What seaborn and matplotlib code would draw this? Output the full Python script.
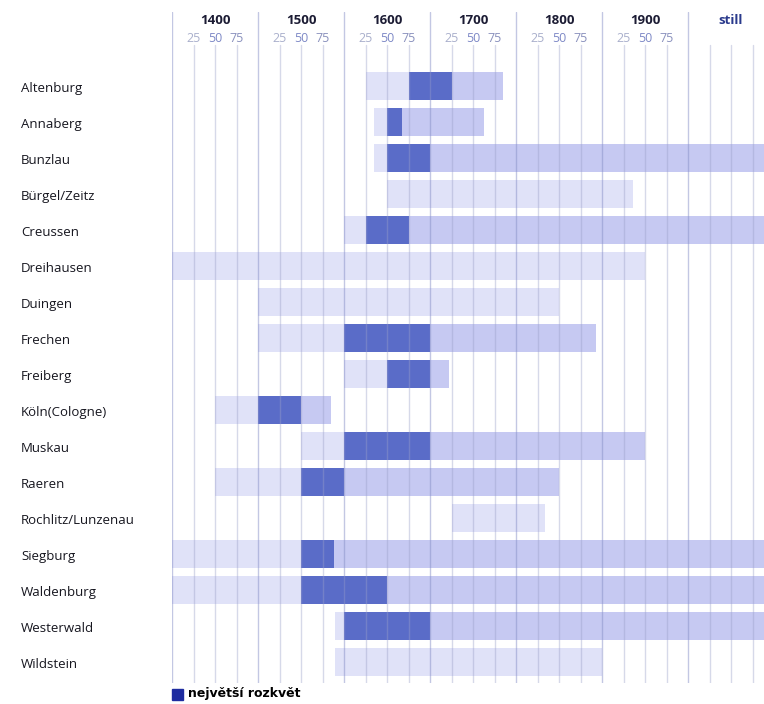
import matplotlib
matplotlib.use("Agg")
import matplotlib.pyplot as plt
import matplotlib.transforms as mtransforms
import numpy as np
import seaborn as sns

# pottery centres, top to bottom
centres = ["Altenburg", "Annaberg", "Bunzlau", "Bürgel/Zeitz", "Creussen",
           "Dreihausen", "Duingen", "Frechen", "Freiberg", "Köln(Cologne)",
           "Muskau", "Raeren", "Rochlitz/Lunzenau", "Siegburg", "Waldenburg",
           "Westerwald", "Wildstein"]
STILL = 2100  # production still going on
start = [1625, 1635, 1635, 1650, 1600, 1400, 1500, 1500, 1600, 1450,
         1550, 1450, 1726, 1400, 1400, 1590, 1590]
bloom_start = [1675, 1650, 1650, None, 1625, None, None, 1600, 1650, 1500,
               1600, 1550, None, 1550, 1550, 1600, None]
bloom_end = [1725, 1667, 1700, None, 1675, None, None, 1700, 1700, 1550,
             1700, 1600, None, 1588, 1650, 1700, None]
end = [1785, 1763, STILL, 1936, STILL, 1950, 1850, 1893, 1722, 1585,
       1950, 1850, 1834, STILL, STILL, STILL, 1900]

centuries = [1400, 1500, 1600, 1700, 1800, 1900]
quarters = [25, 50, 75]
quarter_colors = ["#aab0cc", "#7d88c6", "#8a91bd"]

LIGHT = "#e0e2f8"
MEDIUM = "#c6c9f2"
DARK = "#5a6cc8"
LEGEND_BLUE = "#1e2ca0"

sns.set_theme(style="white")
plt.rcParams["font.family"] = ["Open Sans", "DejaVu Sans"]

W, H = 764, 704
fig = plt.figure(figsize=(W / 100, H / 100), dpi=100)
top_px, bot_px = 12, 683
ax = fig.add_axes([172 / W, 1 - bot_px / H, 1 - 172 / W, (bot_px - top_px) / H])

row0, pitch = 85.5, 36.0


def row(px):
    return (px - row0) / pitch


ax.set_xlim(1400, 1400 + (W - 172) * 100 / 86)
ax.set_ylim(row(bot_px), row(top_px))
ax.axis("off")

# bars
y = np.arange(len(centres))
h = 28 / pitch
for i in range(len(centres)):
    if bloom_start[i] is None:
        ax.barh(y[i], end[i] - start[i], left=start[i], height=h, color=LIGHT, lw=0, zorder=1)
        continue
    ax.barh(y[i], bloom_start[i] - start[i], left=start[i], height=h, color=LIGHT, lw=0, zorder=1)
    ax.barh(y[i], bloom_end[i] - bloom_start[i], left=bloom_start[i], height=h, color=DARK, lw=0, zorder=1)
    ax.barh(y[i], end[i] - bloom_end[i], left=bloom_end[i], height=h, color=MEDIUM, lw=0, zorder=1)

# grid lines
for yr in range(1400, 2100, 25):
    if yr % 100 == 0:
        ax.plot([yr, yr], [row(bot_px), row(top_px)], color="#8890c8", alpha=0.5, lw=1, zorder=2)
    else:
        ax.plot([yr, yr], [row(bot_px), row(45)], color="#9aa0c8", alpha=0.4, lw=1, zorder=2)

# header
for c in centuries:
    ax.text(c + 50, row(20), str(c), ha="center", va="center", fontsize=9.5,
            fontweight="bold", color="#1c1c34")
    for q, qc in zip(quarters, quarter_colors):
        ax.text(c + q, row(38.5), str(q), ha="center", va="center", fontsize=9, color=qc)
ax.text(2050, row(20), "still", ha="center", va="center", fontsize=9.5,
        fontweight="bold", color="#2a3a8c")

# row labels
trans = mtransforms.blended_transform_factory(fig.transFigure, ax.transData)
for i, name in enumerate(centres):
    ax.text(21 / W, y[i] + 0.07, name, transform=trans, ha="left", va="center",
            fontsize=9.5, color="#16161f")

# legend
fig.patches.append(plt.Rectangle((172 / W, 1 - 700 / H), 11 / W, 11 / H,
                                 transform=fig.transFigure, color=LEGEND_BLUE))
fig.text(188 / W, 1 - 694 / H, "největší rozkvět", ha="left", va="center",
         fontsize=9, fontweight="bold", family=["DejaVu Sans"], color="black")

fig.savefig("out.png", dpi=100)
